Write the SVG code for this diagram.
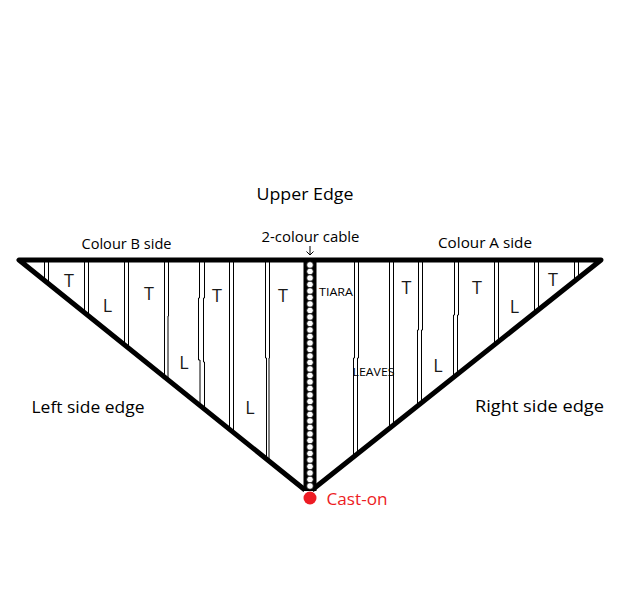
<svg xmlns="http://www.w3.org/2000/svg" width="618" height="596" viewBox="0 0 618 596">
<style>
  .lbl { font-family: "Open Sans", "Noto Sans", "DejaVu Sans", sans-serif; fill: #000; }
  .big { font-size: 17px; }
  .mid { font-size: 14px; }
  .small { font-size: 11px; }
  .tl { font-family: "Open Sans", "Noto Sans", "DejaVu Sans", sans-serif; font-size: 18px; fill: #1a1a1a; text-anchor: middle; }
  .edge { fill: none; stroke: #000; stroke-width: 5; stroke-linejoin: round; }
  .st { fill: none; stroke: #000; stroke-width: 1; }
  .bead { fill: #fff; stroke: #000; stroke-width: 0.7; }
</style>
<rect width="618" height="596" fill="#fff"/>

<g id="stripes">
  <path class="st" d="M44.5,262 V280 M48.5,262 V283"/>
  <path class="st" d="M84.5,262 V312 M88.5,262 V315"/>
  <path class="st" d="M124.5,262 V344 M128.5,262 V347"/>
  <path class="st" d="M164.5,262 V377 M168.5,262 V316 H168 V380"/>
  <path class="st" d="M199.5,262 V298 H198.5 V360 H200 V405 M204.5,262 V298 H203.5 V362 H204.5 V409"/>
  <path class="st" d="M229.5,262 V429 M233.5,262 V432"/>
  <path class="st" d="M265.5,262 V358 H266.5 V458 M269.5,262 V358 H269 V461"/>
  <path class="st" d="M354.5,262 V358 H353.5 V456 M358.5,262 V358 H357.5 V453"/>
  <path class="st" d="M389.5,262 V428 M393.5,262 V425"/>
  <path class="st" d="M418.5,262 V330 H417.5 V405 M422.5,262 V330 H421.5 V401"/>
  <path class="st" d="M454.5,262 V315 H453.5 V376 M458.5,262 V315 H457.5 V373"/>
  <path class="st" d="M494.5,262 V345 M498.5,262 V341"/>
  <path class="st" d="M534.5,262 V313 M538.5,262 V309"/>
  <path class="st" d="M574.5,262 V281 M578.5,262 V278"/>
</g>

<g id="shawl-outline">
  <path class="edge" d="M305,490 L19,260 L601,260 L312,490"/>
</g>

<g id="cable">
  <rect x="303.5" y="260" width="13" height="231" fill="#000"/>
  <g id="beads">
    <circle class="bead" cx="310" cy="265" r="3.3"/>
    <circle class="bead" cx="310" cy="271.5" r="3.3"/>
    <circle class="bead" cx="310" cy="278" r="3.3"/>
    <circle class="bead" cx="310" cy="284.5" r="3.3"/>
    <circle class="bead" cx="310" cy="291" r="3.3"/>
    <circle class="bead" cx="310" cy="297.5" r="3.3"/>
    <circle class="bead" cx="310" cy="304" r="3.3"/>
    <circle class="bead" cx="310" cy="310.5" r="3.3"/>
    <circle class="bead" cx="310" cy="317" r="3.3"/>
    <circle class="bead" cx="310" cy="323.5" r="3.3"/>
    <circle class="bead" cx="310" cy="330" r="3.3"/>
    <circle class="bead" cx="310" cy="336.5" r="3.3"/>
    <circle class="bead" cx="310" cy="343" r="3.3"/>
    <circle class="bead" cx="310" cy="349.5" r="3.3"/>
    <circle class="bead" cx="310" cy="356" r="3.3"/>
    <circle class="bead" cx="310" cy="362.5" r="3.3"/>
    <circle class="bead" cx="310" cy="369" r="3.3"/>
    <circle class="bead" cx="310" cy="375.5" r="3.3"/>
    <circle class="bead" cx="310" cy="382" r="3.3"/>
    <circle class="bead" cx="310" cy="388.5" r="3.3"/>
    <circle class="bead" cx="310" cy="395" r="3.3"/>
    <circle class="bead" cx="310" cy="401.5" r="3.3"/>
    <circle class="bead" cx="310" cy="408" r="3.3"/>
    <circle class="bead" cx="310" cy="414.5" r="3.3"/>
    <circle class="bead" cx="310" cy="421" r="3.3"/>
    <circle class="bead" cx="310" cy="427.5" r="3.3"/>
    <circle class="bead" cx="310" cy="434" r="3.3"/>
    <circle class="bead" cx="310" cy="440.5" r="3.3"/>
    <circle class="bead" cx="310" cy="447" r="3.3"/>
    <circle class="bead" cx="310" cy="453.5" r="3.3"/>
    <circle class="bead" cx="310" cy="460" r="3.3"/>
    <circle class="bead" cx="310" cy="466.5" r="3.3"/>
    <circle class="bead" cx="310" cy="473" r="3.3"/>
    <circle class="bead" cx="310" cy="479.5" r="3.3"/>
    <circle class="bead" cx="310" cy="486" r="3.3"/>
  </g>
</g>

<g id="connectors">
  <path class="st" d="M310,246 V255 M306.5,251.5 L310,255 L313.5,251.5"/>
</g>

<g id="cast-on">
  <circle cx="310" cy="498" r="6.5" fill="#ED1C24"/>
  <text class="lbl big" x="326.5" y="505" textLength="61" lengthAdjust="spacingAndGlyphs" style="fill:#ED1C24">Cast-on</text>
</g>

<g id="labels">
  <text id="upper-edge" class="lbl big" x="256.5" y="199.5" textLength="97" lengthAdjust="spacingAndGlyphs">Upper Edge</text>
  <text id="colour-b" class="lbl mid" x="81.5" y="249" textLength="90" lengthAdjust="spacingAndGlyphs">Colour B side</text>
  <text id="cable-label" class="lbl mid" x="261.5" y="241.5" textLength="98" lengthAdjust="spacingAndGlyphs">2-colour cable</text>
  <text id="colour-a" class="lbl mid" x="438" y="248" textLength="94" lengthAdjust="spacingAndGlyphs">Colour A side</text>
  <text id="left-edge" class="lbl big" x="31.5" y="413" textLength="113" lengthAdjust="spacingAndGlyphs">Left side edge</text>
  <text id="right-edge" class="lbl big" x="475" y="412" textLength="129" lengthAdjust="spacingAndGlyphs">Right side edge</text>
  <text id="tiara" class="lbl small" x="319" y="296" textLength="34" lengthAdjust="spacingAndGlyphs">TIARA</text>
  <text id="leaves" class="lbl small" x="352.5" y="375.5" textLength="42" lengthAdjust="spacingAndGlyphs">LEAVES</text>
</g>

<g id="pattern-letters">
  <text class="tl" x="69" y="287">T</text>
  <text class="tl" x="107.5" y="312">L</text>
  <text class="tl" x="149" y="300">T</text>
  <text class="tl" x="184" y="368.5">L</text>
  <text class="tl" x="217" y="302">T</text>
  <text class="tl" x="250" y="413.5">L</text>
  <text class="tl" x="283" y="302">T</text>
  <text class="tl" x="406.5" y="293.5">T</text>
  <text class="tl" x="438" y="372">L</text>
  <text class="tl" x="477" y="293.5">T</text>
  <text class="tl" x="514.5" y="313">L</text>
  <text class="tl" x="553" y="286">T</text>
</g>
</svg>
